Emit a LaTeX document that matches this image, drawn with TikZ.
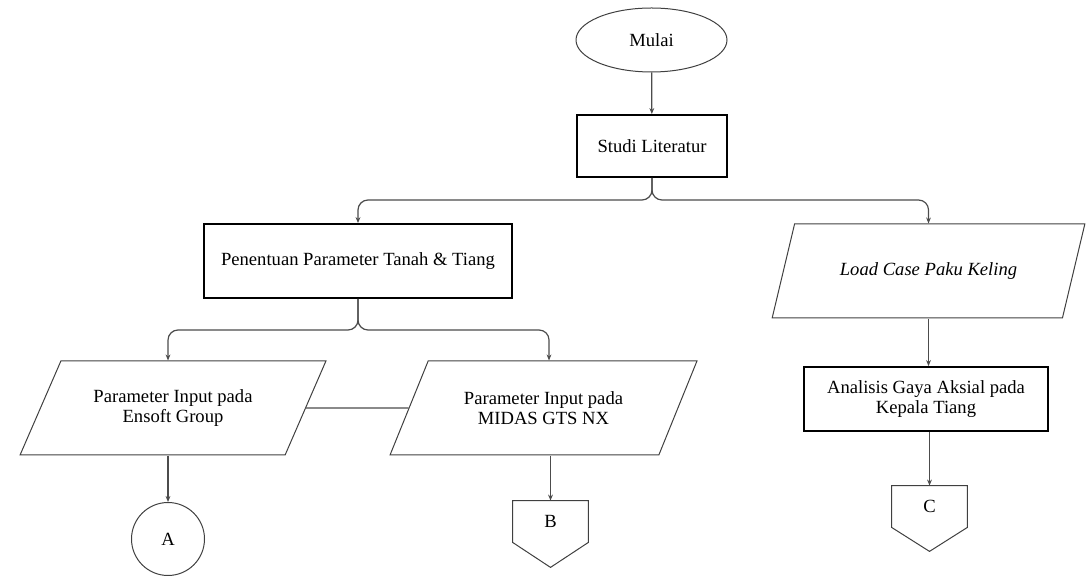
\documentclass[tikz,border=0pt]{standalone}
\usepackage{fontspec}
\setmainfont{Liberation Serif}
\usetikzlibrary{shapes.geometric,arrows.meta}
\begin{document}
\begin{tikzpicture}[x=0.5pt,y=-0.5pt,align=center,font=\fontsize{9.3}{10}\selectfont]
\tikzstyle{proses}=[draw=black,line width=0.9pt,rectangle,inner sep=2pt]
\tikzstyle{terminal}=[draw=black!75,line width=0.5pt,ellipse,minimum width=75.5pt,minimum height=32pt]
\tikzstyle{masukan}=[draw=black!75,line width=0.5pt,trapezium,trapezium left angle=54,trapezium right angle=126,trapezium stretches=true,minimum height=47pt,inner sep=1pt]
\tikzstyle{konektor}=[draw=black!75,line width=0.5pt,circle,minimum size=36.5pt,inner sep=0pt]
\tikzstyle{halaman}=[minimum width=37.5pt,minimum height=20.5pt,inner sep=0pt]
\tikzstyle{garis}=[draw=black!70,line width=0.6pt]
\tikzstyle{panah}=[garis,-{Stealth[length=3pt,width=2.4pt]}]
\useasboundingbox (0,0) rectangle (1087,576);
\node[terminal] (mulai) at (651.5,40) {Mulai};
\node[proses,minimum width=75pt,minimum height=31pt] (studi) at (652,146) {Studi Literatur};
\node[proses,minimum width=154pt,minimum height=37pt] (tanah) at (358,261) {Penentuan Parameter Tanah \& Tiang};
\node[masukan,minimum width=156.5pt] (loadcase) at (928.5,271) {\textit{Load Case Paku Keling}};
\node[masukan,minimum width=153pt] (ensoft) at (173,408) {Parameter Input pada\\Ensoft Group};
\node[masukan,minimum width=153.5pt] (midas) at (543.5,408) {Parameter Input pada\\MIDAS GTS NX};
\node[proses,minimum width=122pt,minimum height=32pt] (analisis) at (926,399) {Analisis Gaya Aksial pada\\Kepala Tiang};
\node[konektor] (a) at (168,539) {A};
\node[halaman] (b) at (550.5,521.5) {B};
\node[halaman] (c) at (929.5,506.5) {C};
\draw[black!75,line width=0.5pt] (b.north west) -- (b.north east) -- (b.south east) -- ([yshift=-12.5pt]b.south) -- (b.south west) -- cycle;
\draw[black!75,line width=0.5pt] (c.north west) -- (c.north east) -- (c.south east) -- ([yshift=-12pt]c.south) -- (c.south west) -- cycle;
\coordinate (cabang1) at (652,200);
\coordinate (cabang2) at (358,330);
\draw[panah] (mulai) -- (studi);
\draw[panah,rounded corners=5pt] (studi.south) -- (cabang1) -| (tanah.north);
\draw[panah,rounded corners=5pt] (studi.south) -- (cabang1) -| (loadcase.north);
\draw[panah,rounded corners=5pt] (tanah.south) -- (cabang2) -| ([xshift=-2.5pt]ensoft.north);
\draw[panah,rounded corners=5pt] (tanah.south) -- (cabang2) -| ([xshift=2.75pt]midas.north);
\draw[garis] (ensoft.east) -- (midas.west);
\draw[panah] (a.north |- ensoft.south) -- (a.north);
\draw[panah] (b.north |- midas.south) -- (b.north);
\draw[panah] (loadcase.south) -- (loadcase.south |- analisis.north);
\draw[panah] (c.north |- analisis.south) -- (c.north);
\end{tikzpicture}
\end{document}
